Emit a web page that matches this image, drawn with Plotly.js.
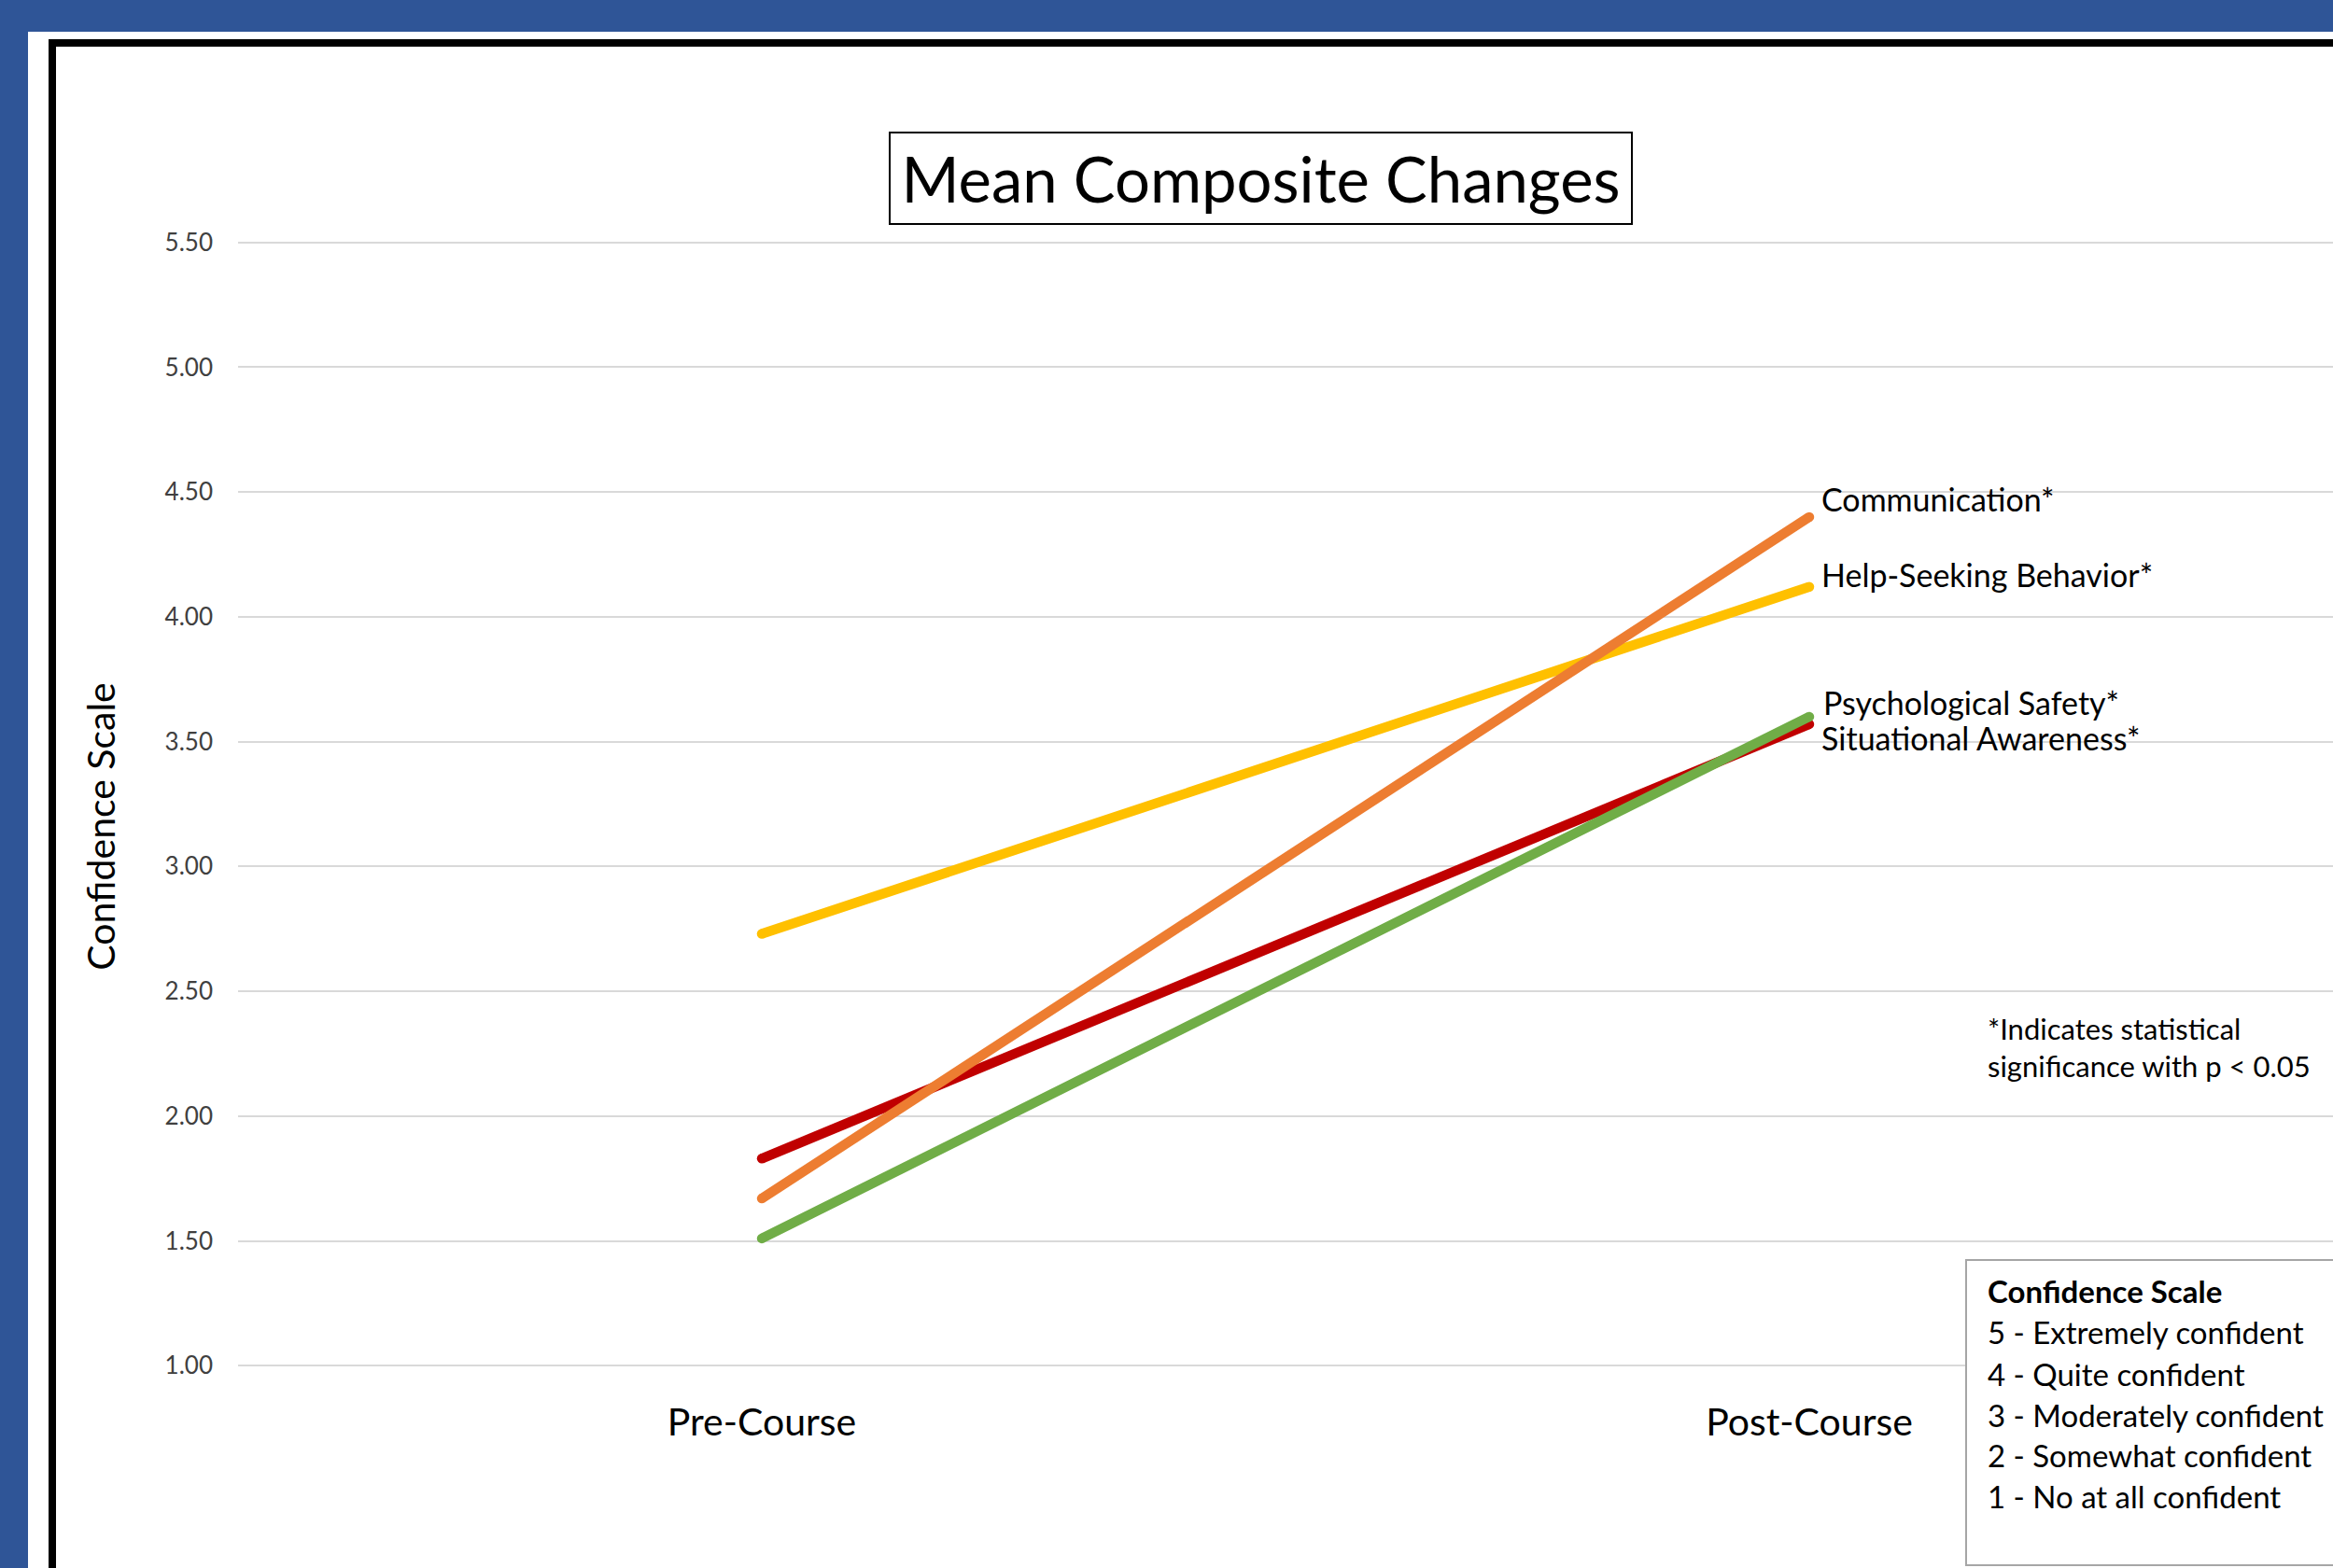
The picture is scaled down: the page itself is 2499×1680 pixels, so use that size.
<!DOCTYPE html>
<html>
<head>
<meta charset="utf-8">
<script src="https://cdn.plot.ly/plotly-3.0.1.min.js"></script>
<style>
  html, body { margin: 0; padding: 0; width: 2499px; height: 1680px; overflow: hidden; background: #2F5597; }
  #sheet { position: absolute; left: 30px; top: 34px; width: 2469px; height: 1646px; background: #ffffff; }
  #frame { position: absolute; left: 52px; top: 42px; width: 2600px; height: 1800px; border: 8px solid #000; box-sizing: border-box; }
  #chart { position: absolute; left: 0; top: 0; width: 2499px; height: 1680px; }
</style>
</head>
<body>
<div id="sheet"></div>
<div id="frame"></div>
<div id="chart"></div>
<script>
// ---- data ----
const categories = ['Pre-Course', 'Post-Course'];
const seriesNames = ['Help-Seeking Behavior*', 'Situational Awareness*', 'Communication*', 'Psychological Safety*'];
const helpSeeking = [2.73, 4.12];
const situationalAwareness = [1.83, 3.57];
const communication = [1.67, 4.40];
const psychologicalSafety = [1.51, 3.60];
const yTickValues = [1.0, 1.5, 2.0, 2.5, 3.0, 3.5, 4.0, 4.5, 5.0, 5.5];
const chartTitle = 'Mean Composite Changes';
const yTitle = 'Confidence Scale';
const scaleTitle = 'Confidence Scale';
const scaleLines = ['5 - Extremely confident', '4 - Quite confident', '3 - Moderately confident', '2 - Somewhat confident', '1 - No at all confident'];
const footnoteLines = ['*Indicates statistical', 'significance with p &lt; 0.05'];

// ---- styling ----
const seriesValues = [helpSeeking, situationalAwareness, communication, psychologicalSafety];
const seriesColors = ['#FFC000', '#C00000', '#ED7D31', '#70AD47'];
const labelShift = [13, -15, 19, 15];
const labelXShift = [11, 11, 11, 13];
const FONT = 'Lato, Carlito, Calibri, sans-serif';
const W = 2499, H = 1680;
const M = {l: 255, r: 0, t: 257, b: 166};
const PW = W - M.l - M.r, PH = H - M.t - M.b;
const px2x = p => (p - M.l) / PW;          // pixel -> paper x
const px2y = p => (H - M.b - p) / PH;      // pixel -> paper y

const traces = seriesValues.map((vals, i) => ({
  type: 'scatter',
  mode: 'lines+markers',
  name: seriesNames[i],
  x: categories,
  y: vals,
  line: {color: seriesColors[i], width: 10.5},
  marker: {color: seriesColors[i], size: 10.5},
  hoverinfo: 'skip'
}));

const annotations = [];
seriesValues.forEach((vals, i) => {
  annotations.push({
    xref: 'x', yref: 'y', x: categories[1], y: vals[1],
    xanchor: 'left', yanchor: 'middle', xshift: labelXShift[i], yshift: labelShift[i],
    text: seriesNames[i], showarrow: false,
    font: {family: FONT, size: 34, color: '#000'}
  });
});
// footnote
annotations.push({
  xref: 'paper', yref: 'paper', x: px2x(2127), y: px2y(1122),
  xanchor: 'left', yanchor: 'middle', align: 'left',
  text: footnoteLines.join('<br>'), showarrow: false,
  font: {family: FONT, size: 31, color: '#000'}
});
// scale box text
const scaleBaselines = [1396, 1440, 1485, 1529, 1572, 1616];
[('<b>' + scaleTitle + '</b>')].concat(scaleLines).forEach((t, k) => {
  annotations.push({
    xref: 'paper', yref: 'paper', x: px2x(2127), y: px2y(scaleBaselines[k] - 12.8),
    xanchor: 'left', yanchor: 'middle', align: 'left',
    text: t, showarrow: false,
    font: {family: FONT, size: 33, color: '#000'}
  });
});

const layout = {
  width: W, height: H,
  margin: M,
  paper_bgcolor: 'rgba(0,0,0,0)',
  plot_bgcolor: 'rgba(0,0,0,0)',
  showlegend: false,
  title: {
    text: chartTitle,
    font: {family: FONT, size: 67, color: '#000'},
    xref: 'container', x: 1350.5 / W, xanchor: 'center',
    yref: 'container', y: 1 - 193.5 / H, yanchor: 'middle'
  },
  xaxis: {
    type: 'category',
    range: [-0.5, 1.5],
    showgrid: false, zeroline: false, showline: false,
    ticks: '',
    ticklabelstandoff: -18,
    tickfont: {family: FONT, size: 41, color: '#000'}
  },
  yaxis: {
    range: [0.8105, 5.51],
    tickvals: yTickValues,
    tickformat: '.2f',
    showgrid: true, gridcolor: '#D9D9D9', gridwidth: 2,
    zeroline: false, showline: false, ticks: '',
    ticklabelstandoff: 26,
    tickfont: {family: FONT, size: 26, color: '#404040'},
    title: {text: yTitle, font: {family: FONT, size: 41, color: '#000'}, standoff: 40}
  },
  shapes: [
    {type: 'rect', xref: 'paper', yref: 'paper',
     x0: px2x(953), x1: px2x(1748), y0: px2y(240), y1: px2y(142),
     line: {color: '#000', width: 2}, fillcolor: 'rgba(0,0,0,0)', layer: 'above'},
    {type: 'rect', xref: 'paper', yref: 'paper',
     x0: px2x(2106), x1: px2x(2560), y0: px2y(1677), y1: px2y(1350),
     line: {color: '#A6A6A6', width: 2}, fillcolor: '#ffffff', layer: 'above'}
  ],
  annotations: annotations
};

Plotly.newPlot('chart', traces, layout, {displayModeBar: false, staticPlot: true});
</script>
</body>
</html>
